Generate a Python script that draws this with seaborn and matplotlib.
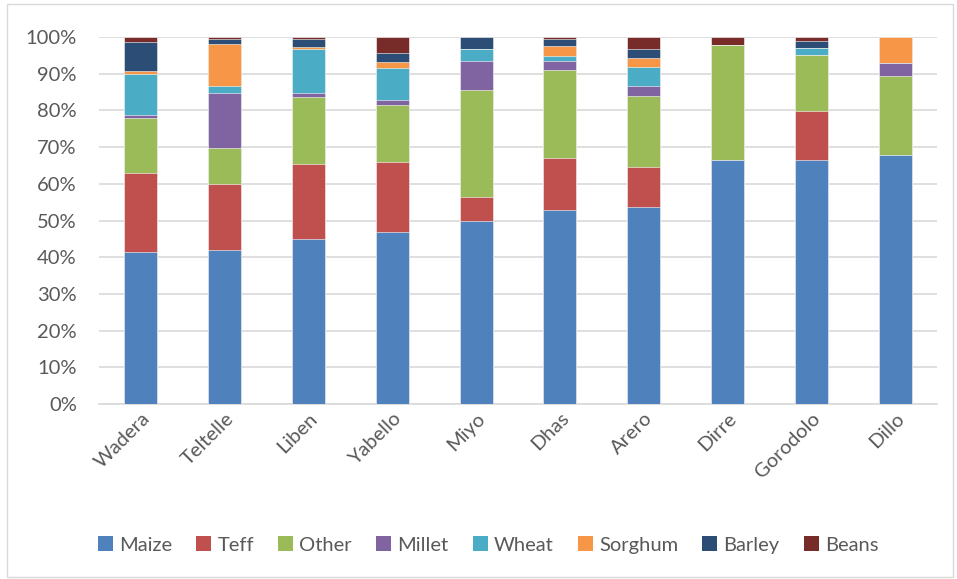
import numpy as np
import pandas as pd
import matplotlib
matplotlib.use("Agg")
import matplotlib.pyplot as plt
import seaborn as sns
from matplotlib.patches import Patch, Rectangle
from matplotlib.ticker import PercentFormatter

regions = ["Wadera", "Teltelle", "Liben", "Yabello", "Miyo", "Dhas", "Arero", "Dirre", "Gorodolo", "Dillo"]
crops = ["Maize", "Teff", "Other", "Millet", "Wheat", "Sorghum", "Barley", "Beans"]

maize   = [41.4, 42.0, 45.0, 46.9, 49.9, 52.9, 53.7, 66.5, 66.5, 67.8]
teff    = [21.6, 17.9, 20.4, 19.1,  6.5, 14.1, 10.8,  0.0, 13.3,  0.0]
other   = [14.9,  9.8, 18.3, 15.6, 29.1, 24.1, 19.3, 31.4, 15.4, 21.5]
millet  = [ 0.8, 15.0,  1.0,  1.2,  8.0,  2.4,  2.9,  0.0,  0.0,  3.5]
wheat   = [11.3,  2.0, 12.0,  8.7,  3.2,  1.2,  5.1,  0.0,  1.9,  0.0]
sorghum = [ 0.8, 11.4,  0.5,  1.8,  0.0,  2.8,  2.6,  0.0,  0.0,  7.2]
barley  = [ 7.8,  1.4,  2.3,  2.4,  3.3,  2.0,  2.4,  0.0,  1.9,  0.0]
beans   = [ 1.4,  0.5,  0.5,  4.3,  0.0,  0.5,  3.2,  2.1,  1.0,  0.0]

colors = ["#4F81BD", "#C0504D", "#9BBB59", "#8064A2", "#4BACC6", "#F79646", "#2C4D75", "#772C2A"]

series = [maize, teff, other, millet, wheat, sorghum, barley, beans]
df = pd.DataFrame({c: np.array(s, dtype=float) for c, s in zip(crops, series)}, index=regions)
df = df.div(df.sum(axis=1), axis=0)
cum = df.cumsum(axis=1)

sns.set_theme(style="white")
plt.rcParams['font.family'] = ['Lato', 'DejaVu Sans']

fig = plt.figure(figsize=(9.57, 5.79), dpi=100)
ax = fig.add_axes([99/957, (579-404)/579, (937-99)/957, (404-37)/579])

for i in range(len(crops) - 1, -1, -1):
    c = crops[i]
    d = pd.DataFrame({"region": regions, "val": cum[c].values})
    sns.barplot(data=d, x="region", y="val", color=colors[i], width=0.395,
                saturation=1, ax=ax, edgecolor="white", linewidth=0.4, zorder=3)

ax.set_ylim(0, 1)
ax.set_xlim(-0.5, len(regions) - 0.5)
ax.set_yticks(np.arange(0, 1.01, 0.1))
ax.yaxis.set_major_formatter(PercentFormatter(1.0, decimals=0))
ax.grid(axis="y", color="#D9D9D9", linewidth=1.2, zorder=0)
ax.set_axisbelow(True)
for s in ["top", "right", "left"]:
    ax.spines[s].set_visible(False)
ax.spines["bottom"].set_color("#D9D9D9")
ax.spines["bottom"].set_linewidth(1.2)
ax.set_xlabel("")
ax.set_ylabel("")
ax.tick_params(axis="y", length=0, pad=16, labelsize=14.5, labelcolor="#595959")
ax.tick_params(axis="x", length=0, pad=4, labelsize=14.5, labelcolor="#595959")
for lab in ax.get_xticklabels():
    lab.set_rotation(45)
    lab.set_ha("right")
    lab.set_rotation_mode("anchor")

handles = [Patch(facecolor=colors[i], edgecolor="none", label=crops[i]) for i in range(len(crops))]
fig.legend(handles=handles, loc="center", bbox_to_anchor=(0.51, 1 - 545/579), ncol=8,
           frameon=False, fontsize=14.5, labelcolor="#595959", handlelength=0.75,
           handleheight=0.75, handletextpad=0.3, columnspacing=1.2)

fig.patches.append(Rectangle((7/957, 2/579), 946/957, 573/579, transform=fig.transFigure,
                             fill=False, edgecolor="#D9D9D9", linewidth=1))

fig.savefig("out.png", dpi=100, facecolor="white")
